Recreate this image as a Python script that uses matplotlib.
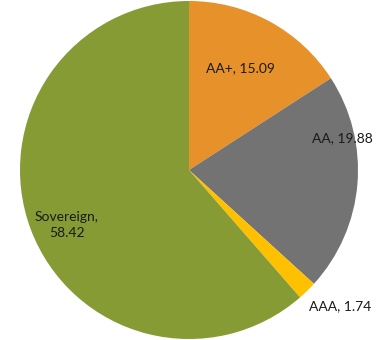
import matplotlib
matplotlib.use("Agg")
import matplotlib.pyplot as plt

# rating split of the portfolio (%)
ratings = ["AA+", "AA", "AAA", "Sovereign"]
shares = [15.09, 19.88, 1.74, 58.42]
colors = ["#E7912A", "#737373", "#FFC000", "#869B34"]
label_pos = [(0.302, 0.604), (0.905, 0.189), (0.893, -0.805), (-0.722, -0.325)]

plt.rcParams["font.family"] = ["Lato", "DejaVu Sans"]

fig = plt.figure(figsize=(3.82, 3.40), dpi=100)
ax = fig.add_axes([0, 0, 1, 1])

wedges, texts = ax.pie(shares, colors=colors, startangle=90, counterclock=False,
                       radius=1.0, labels=None)

for name, val, (x, y) in zip(ratings, shares, label_pos):
    if name == "Sovereign":
        txt = f"{name},\n{val:.2f}"
    else:
        txt = f"{name}, {val:.2f}"
    ax.text(x, y, txt, ha="center", va="center", fontsize=10, color="#1a1a1a",
            linespacing=1.35)

ax.set_xlim(-189 / 169, 193 / 169)
ax.set_ylim(-170 / 169, 170 / 169)
ax.axis("off")

fig.savefig("out.png", dpi=100)
